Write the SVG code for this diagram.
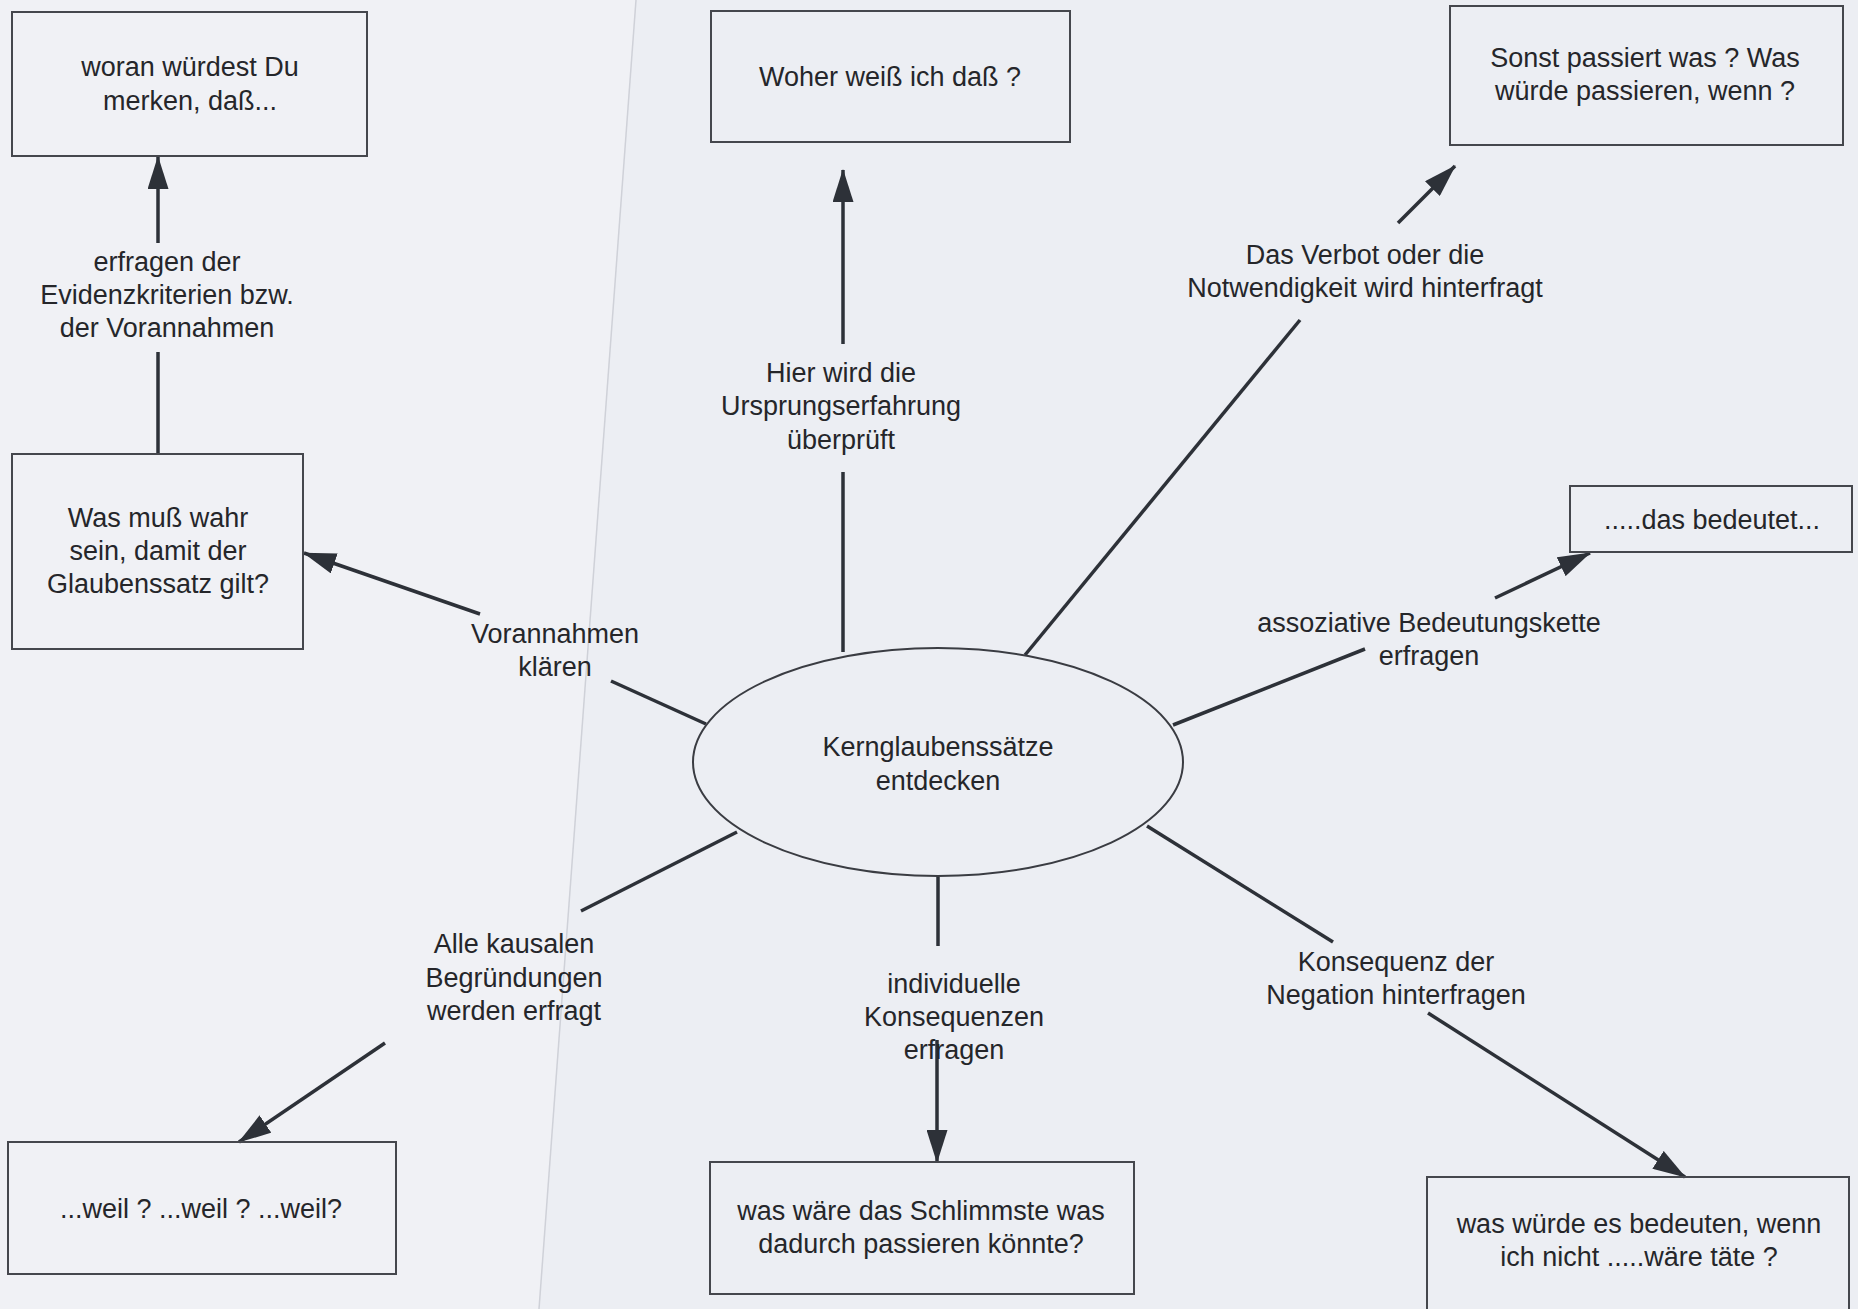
<svg xmlns="http://www.w3.org/2000/svg" width="1858" height="1309" viewBox="0 0 1858 1309">
<defs>
<marker id="ah" markerUnits="userSpaceOnUse" markerWidth="33" markerHeight="21" refX="32" refY="10.5" orient="auto">
<path d="M0,0 L33,10.5 L0,21 z" fill="#2d3138"/>
</marker>
<style>
.bg{fill:#eceef3}
.box{fill:none;stroke:#45474d;stroke-width:2}
.ell{fill:none;stroke:#3a3c42;stroke-width:2}
.ln{stroke:#2d3138;stroke-width:3.5;fill:none;stroke-linecap:butt}
.ar{stroke:#2d3138;stroke-width:3.5;fill:none;marker-end:url(#ah)}
text{font-family:"Liberation Sans",Arial,sans-serif;font-size:27px;fill:#25262a;text-anchor:middle}
</style>
</defs>
<rect class="bg" x="0" y="0" width="1858" height="1309"/>
<path d="M0,0 L636,0 L539,1309 L0,1309 z" fill="#f0f1f5"/>
<line x1="636" y1="0" x2="539" y2="1309" stroke="#cfd1d8" stroke-width="1.5"/>

<g id="connectors">
<line class="ar" x1="158" y1="243" x2="158" y2="157"/>
<line class="ln" x1="158" y1="352" x2="158" y2="454"/>
<line class="ar" x1="480" y1="614" x2="304" y2="553"/>
<line class="ln" x1="706" y1="724" x2="611" y2="681"/>
<line class="ln" x1="843" y1="652" x2="843" y2="472"/>
<line class="ar" x1="843" y1="344" x2="843" y2="170"/>
<line class="ln" x1="1025" y1="655" x2="1300" y2="320"/>
<line class="ar" x1="1398" y1="223" x2="1455" y2="166"/>
<line class="ln" x1="1173" y1="725" x2="1365" y2="649"/>
<line class="ar" x1="1495" y1="598" x2="1590" y2="553"/>
<line class="ln" x1="737" y1="832" x2="581" y2="911"/>
<line class="ar" x1="385" y1="1043" x2="239" y2="1142"/>
<line class="ln" x1="938" y1="877" x2="938" y2="946"/>
<line class="ar" x1="937" y1="1040" x2="937" y2="1162"/>
<line class="ln" x1="1147" y1="826" x2="1333" y2="942"/>
<line class="ar" x1="1428" y1="1013" x2="1685" y2="1177"/>
</g>

<g id="center">
<ellipse class="ell" cx="938" cy="762" rx="245" ry="114"/>
<text x="938" y="756">Kernglaubenssätze</text>
<text x="938" y="790">entdecken</text>
</g>

<g id="boxA">
<rect class="box" x="12" y="12" width="355" height="144"/>
<text x="190" y="76">woran würdest Du</text>
<text x="190" y="110">merken, daß...</text>
</g>
<g id="labelA"><text x="167" y="271">erfragen der</text><text x="167" y="304">Evidenzkriterien bzw.</text><text x="167" y="337">der Vorannahmen</text></g>

<g id="boxB">
<rect class="box" x="12" y="454" width="291" height="195"/>
<text x="158" y="527">Was muß wahr</text>
<text x="158" y="560">sein, damit der</text>
<text x="158" y="593">Glaubenssatz gilt?</text>
</g>
<g id="labelB"><text x="555" y="643">Vorannahmen</text><text x="555" y="676">klären</text></g>

<g id="boxC">
<rect class="box" x="711" y="11" width="359" height="131"/>
<text x="890" y="86">Woher weiß ich daß ?</text>
</g>
<g id="labelC"><text x="841" y="382">Hier wird die</text><text x="841" y="415">Ursprungserfahrung</text><text x="841" y="449">überprüft</text></g>

<g id="boxD">
<rect class="box" x="1450" y="6" width="393" height="139"/>
<text x="1645" y="67">Sonst passiert was ? Was</text>
<text x="1645" y="100">würde passieren, wenn ?</text>
</g>
<g id="labelD"><text x="1365" y="264">Das Verbot oder die</text><text x="1365" y="297">Notwendigkeit wird hinterfragt</text></g>

<g id="boxE">
<rect class="box" x="1570" y="486" width="282" height="66"/>
<text x="1712" y="529">.....das bedeutet...</text>
</g>
<g id="labelE"><text x="1429" y="632">assoziative Bedeutungskette</text><text x="1429" y="665">erfragen</text></g>

<g id="boxF">
<rect class="box" x="8" y="1142" width="388" height="132"/>
<text x="201" y="1218">...weil ? ...weil ? ...weil?</text>
</g>
<g id="labelF"><text x="514" y="953">Alle kausalen</text><text x="514" y="987">Begründungen</text><text x="514" y="1020">werden erfragt</text></g>

<g id="boxG">
<rect class="box" x="710" y="1162" width="424" height="132"/>
<text x="921" y="1220">was wäre das Schlimmste was</text>
<text x="921" y="1253">dadurch passieren könnte?</text>
</g>
<g id="labelG"><text x="954" y="993">individuelle</text><text x="954" y="1026">Konsequenzen</text><text x="954" y="1059">erfragen</text></g>

<g id="boxH">
<rect class="box" x="1427" y="1177" width="422" height="150"/>
<text x="1639" y="1233">was würde es bedeuten, wenn</text>
<text x="1639" y="1266">ich nicht .....wäre täte ?</text>
</g>
<g id="labelH"><text x="1396" y="971">Konsequenz der</text><text x="1396" y="1004">Negation hinterfragen</text></g>
</svg>
